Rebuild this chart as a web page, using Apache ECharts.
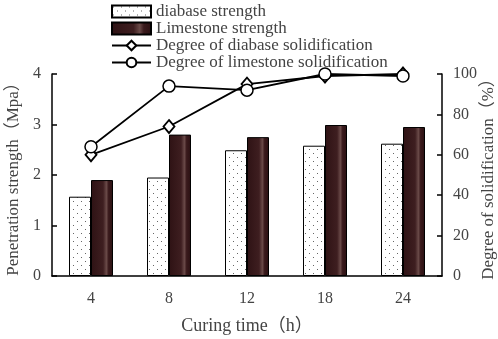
<!DOCTYPE html>
<html>
<head>
<meta charset="utf-8">
<script src="https://cdn.jsdelivr.net/npm/echarts@6/dist/echarts.min.js"></script>
<style>
  html, body { margin: 0; padding: 0; background: #fff; }
  #chart { width: 498px; height: 339px; }
</style>
</head>
<body>
<div id="chart"></div>
<script>
const categories = ['4', '8', '12', '18', '24']
const diabaseStrength = [1.57, 1.95, 2.49, 2.58, 2.62]
const limestoneStrength = [1.90, 2.80, 2.75, 2.99, 2.95]
const diabaseSolid = [60, 74, 95, 99, 100]
const limestoneSolid = [64, 94, 92, 100, 99]

const fontFamily = '"Liberation Serif", "Noto Sans CJK SC", serif'
const textColor = '#444'

// dotted fill for the diabase bars
function dotPattern() {
  const c = document.createElement('canvas')
  c.width = 8
  c.height = 8
  const ctx = c.getContext('2d')
  ctx.fillStyle = '#fff'
  ctx.fillRect(0, 0, 8, 8)
  ctx.fillStyle = '#666'
  ctx.fillRect(1, 1, 1, 1)
  ctx.fillRect(5, 5, 1, 1)
  return c
}

const chart = echarts.init(document.getElementById('chart'))
chart.setOption({
  animation: false,
  textStyle: { fontFamily: fontFamily },
  legend: {
    orient: 'vertical',
    left: 106,
    top: -2,
    itemWidth: 39,
    itemHeight: 12,
    itemGap: 0,
    textStyle: { fontSize: 17, color: textColor, fontFamily: fontFamily },
    data: [
      { name: 'diabase strength', icon: 'rect' },
      { name: 'Limestone strength', icon: 'rect' },
      'Degree of diabase solidification',
      'Degree of limestone solidification'
    ]
  },
  grid: { left: 52, right: 56, top: 74, bottom: 63, outerBoundsMode: 'none' },
  xAxis: {
    type: 'category',
    data: categories,
    name: 'Curing time（h）',
    nameLocation: 'middle',
    nameGap: 41,
    nameTextStyle: { fontSize: 18, color: textColor, fontFamily: fontFamily },
    axisLine: { lineStyle: { color: '#000', width: 1.5 } },
    axisTick: { inside: true, length: 5, lineStyle: { color: '#000', width: 1.5 } },
    axisLabel: { fontSize: 16, color: textColor, margin: 15 }
  },
  yAxis: [{
    type: 'value',
    min: 0,
    max: 4,
    interval: 1,
    name: 'Penetration strength（Mpa）',
    nameLocation: 'middle',
    nameGap: 30,
    nameTextStyle: { fontSize: 17, color: textColor, fontFamily: fontFamily },
    axisLine: { show: true, lineStyle: { color: '#000', width: 1.5 } },
    axisTick: { show: true, inside: true, length: 5, lineStyle: { color: '#000', width: 1.5 } },
    axisLabel: { fontSize: 16, color: textColor, margin: 11 },
    splitLine: { show: false }
  }, {
    type: 'value',
    min: 0,
    max: 100,
    interval: 20,
    name: 'Degree of solidification（%）',
    nameLocation: 'middle',
    nameGap: 38,
    nameMoveOverlap: false,
    nameTextStyle: { fontSize: 17, color: textColor, fontFamily: fontFamily },
    axisLine: { show: true, lineStyle: { color: '#000', width: 1.5 } },
    axisTick: { show: true, inside: true, length: 5, lineStyle: { color: '#000', width: 1.5 } },
    axisLabel: { fontSize: 16, color: textColor, margin: 11 },
    splitLine: { show: false }
  }],
  series: [{
    name: 'diabase strength',
    type: 'bar',
    barWidth: 22,
    barGap: '0%',
    itemStyle: {
      color: { image: dotPattern(), repeat: 'repeat' },
      borderColor: '#000',
      borderWidth: 1
    },
    data: diabaseStrength
  }, {
    name: 'Limestone strength',
    type: 'bar',
    barWidth: 22,
    barGap: '0%',
    itemStyle: {
      color: {
        type: 'linear', x: 0, y: 0, x2: 1, y2: 0,
        colorStops: [
          { offset: 0, color: '#2e1214' },
          { offset: 0.55, color: '#3e1e20' },
          { offset: 0.7, color: '#6a4a48' },
          { offset: 0.8, color: '#3a1a1c' },
          { offset: 1, color: '#2a1012' }
        ]
      },
      borderColor: '#000',
      borderWidth: 1
    },
    data: limestoneStrength
  }, {
    name: 'Degree of diabase solidification',
    type: 'line',
    yAxisIndex: 1,
    symbol: 'diamond',
    symbolSize: [11, 13],
    lineStyle: { color: '#000', width: 1.8 },
    itemStyle: { color: '#fff', borderColor: '#000', borderWidth: 1.8 },
    data: diabaseSolid
  }, {
    name: 'Degree of limestone solidification',
    type: 'line',
    yAxisIndex: 1,
    symbol: 'circle',
    symbolSize: 12,
    lineStyle: { color: '#000', width: 1.8 },
    itemStyle: { color: '#fff', borderColor: '#000', borderWidth: 1.5 },
    data: limestoneSolid
  }]
})
</script>
</body>
</html>
